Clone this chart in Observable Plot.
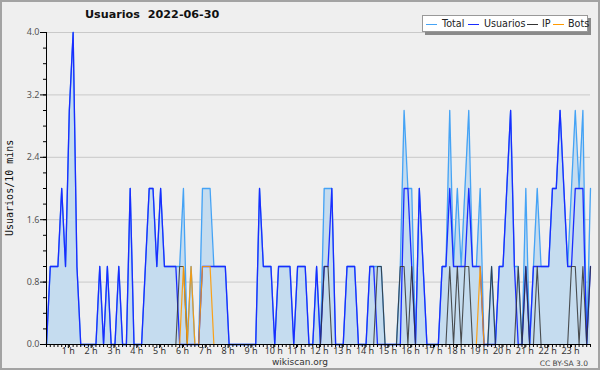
<!DOCTYPE html>
<html><head><meta charset="utf-8">
<script src="https://cdn.jsdelivr.net/npm/d3@7"></script>
<script src="https://cdn.jsdelivr.net/npm/@observablehq/plot@0.6"></script>
<style>
body{margin:0;background:#efefef;}
#wrap{position:relative;width:600px;height:370px;background:#efefef;overflow:hidden;font-family:"DejaVu Sans",sans-serif;}
#frame{position:absolute;left:0;top:0;width:600px;height:370px;box-sizing:border-box;border:2px solid #a3a3a3;pointer-events:none;}
#title{position:absolute;left:85px;top:8px;font-weight:bold;font-size:11.2px;white-space:pre;color:#111;}
#legend{position:absolute;left:422px;top:15px;width:166px;height:17px;box-sizing:border-box;background:#fff;border:1px solid #999;box-shadow:3px 3px 0 #8a8a8a;font-size:9.6px;color:#222;white-space:nowrap;}
#legend .sw{position:absolute;top:8px;width:11px;height:0;border-top:1.5px solid;}
#legend .tx{position:absolute;top:2px;}
#ylab{position:absolute;left:4px;top:188px;font-family:"DejaVu Sans Mono",monospace;font-size:10px;color:#111;transform:rotate(-90deg);transform-origin:0 0;white-space:nowrap;}
#foot{position:absolute;left:0;width:600px;top:357px;text-align:center;font-size:9px;color:#333;}
#cc{position:absolute;right:12px;top:359px;font-size:7.5px;color:#444;}
</style></head>
<body>
<div id="wrap">
<div id="chart"></div>
<div id="title"></div>
<div id="legend"></div>
<div id="ylab"></div>
<div id="foot"></div>
<div id="cc"></div>
<div id="frame"></div>
</div>
<script>
const titleText = "Usuarios  2022-06-30";
const yLabel = "Usuarios/10 mins";
const footText = "wikiscan.org";
const licText = "CC BY-SA 3.0";
const seriesNames = ["Total", "Usuarios", "IP", "Bots"];
const seriesColors = ["#45a3f5", "#1a2cff", "#333333", "#ff9a00"];
const yTicks = [0, 0.8, 1.6, 2.4, 3.2, 4.0];
const hourLabels = ["1 h","2 h","3 h","4 h","5 h","6 h","7 h","8 h","9 h","10 h","11 h","12 h","13 h","14 h","15 h","16 h","17 h","18 h","19 h","20 h","21 h","22 h","23 h"];

// 144 ten-minute slots
const usuarios = [
0,1,1,1,2,1,3,4,1,0,
0,0,0,0,1,0,1,0,0,1,
0,0,2,0,0,0,1,2,2,1,
2,1,1,1,1,0,0,0,0,0,
0,1,1,1,1,1,1,1,0,0,
0,0,0,0,0,0,2,1,1,1,
0,1,1,1,1,0,1,1,1,0,
0,1,0,1,1,2,0,0,0,1,
1,1,0,0,0,1,1,0,0,0,
0,0,0,0,2,2,1,0,2,1,
0,0,0,0,1,1,2,1,1,1,
1,2,1,1,1,0,0,0,0,1,
1,2,3,1,0,0,1,0,1,1,
1,1,1,2,2,3,2,1,1,2,
2,2,0,1];
const ip = [
0,0,0,0,0,0,0,0,0,0,
0,0,0,0,0,0,0,0,0,0,
0,0,0,0,0,0,0,0,0,0,
0,0,0,0,0,1,1,0,0,0,
0,0,0,0,0,0,0,0,0,0,
0,0,0,0,0,0,0,0,0,0,
0,0,0,0,0,0,0,0,0,0,
0,0,0,1,1,0,0,0,0,0,
0,0,0,0,0,0,0,1,1,0,
0,0,0,1,1,0,1,0,0,0,
0,0,0,0,0,0,1,0,1,0,
1,1,0,0,0,0,0,1,0,0,
0,0,0,0,1,0,1,0,0,1,
0,0,0,0,0,0,0,0,1,1,
0,1,0,1];
const bots = [
0,0,0,0,0,0,0,0,0,0,
0,0,0,0,0,0,0,0,0,0,
0,0,0,0,0,0,0,0,0,0,
0,0,0,0,0,0,1,0,1,0,
0,1,1,1,0,0,0,0,0,0,
0,0,0,0,0,0,0,0,0,0,
0,0,0,0,0,0,0,0,0,0,
0,0,0,0,0,0,0,0,0,0,
0,0,0,0,0,0,0,0,0,0,
0,0,0,0,0,0,0,0,0,0,
0,0,0,0,0,0,0,0,0,0,
0,0,0,0,1,0,0,0,0,0,
0,0,0,0,0,0,0,0,0,0,
0,0,0,0,0,0,0,0,0,0,
0,0,0,0];
const total = [
0,1,1,1,2,1,3,4,1,0,
0,0,0,0,1,0,1,0,0,1,
0,0,2,0,0,0,1,2,2,1,
2,1,1,1,1,1,2,0,1,0,
0,2,2,2,1,1,1,1,0,0,
0,0,0,0,0,0,2,1,1,1,
0,1,1,1,1,0,1,1,1,0,
0,1,0,2,2,2,0,0,0,1,
1,1,0,0,0,1,1,1,1,0,
0,0,0,1,3,2,2,0,2,1,
0,0,0,0,1,1,3,1,2,1,
2,3,1,1,2,0,0,1,0,1,
1,2,3,1,1,0,2,0,1,2,
1,1,1,2,2,3,2,1,2,3,
2,3,0,2];

const slot = d3.range(total.length);
const toRows = arr => arr.map((v, i) => ({i, v}));

const chart = Plot.plot({
  width: 600, height: 370,
  marginLeft: 46, marginRight: 10, marginTop: 32, marginBottom: 26,
  style: {background: "transparent", overflow: "visible"},
  x: {domain: [0, 143], axis: null},
  y: {domain: [0, 4], axis: null},
  marks: [
    Plot.ruleY(yTicks.slice(1), {x1: 0, x2: 143, stroke: "#c9c9c9", strokeWidth: 1}),
    Plot.areaY(toRows(total), {x: "i", y: "v", fill: "#c5dcef", curve: "linear"}),
    Plot.lineY(toRows(total), {x: "i", y: "v", stroke: seriesColors[0], strokeWidth: 1.3}),
    Plot.lineY(toRows(usuarios), {x: "i", y: "v", stroke: seriesColors[1], strokeWidth: 1.3}),
    Plot.lineY(toRows(ip), {x: "i", y: "v", stroke: seriesColors[2], strokeWidth: 1.1, strokeOpacity: 0.85}),
    Plot.lineY(toRows(bots), {x: "i", y: "v", stroke: seriesColors[3], strokeWidth: 1.2, strokeOpacity: 0.9}),
    Plot.ruleY([0], {x1: 0, x2: 143, stroke: "#000"}),
    Plot.ruleX([0], {y1: 0, y2: 4, stroke: "#000"}),
    Plot.axisX(slot, {label: null, tickSize: 3, tickFormat: () => "", stroke: "#000"}),
    Plot.axisX(hourLabels.map((d, k) => (k + 1) * 6), {label: null, tickSize: 4, tickPadding: -1, stroke: "#000",
      tickFormat: d => hourLabels[d / 6 - 1], fontSize: 9, fill: "#333", dx: -1}),
    Plot.axisY(d3.range(0, 21).map(k => k * 0.2), {label: null, tickSize: 3, tickFormat: () => "", stroke: "#000"}),
    Plot.axisY(yTicks, {label: null, tickSize: 6, tickPadding: 1, stroke: "#000", tickFormat: d => d.toFixed(1), fontSize: 9, fill: "#555"})
  ]
});
document.getElementById("chart").appendChild(chart);
document.getElementById("title").textContent = titleText;
document.getElementById("ylab").textContent = yLabel;
document.getElementById("foot").textContent = footText;
document.getElementById("cc").textContent = licText;
const lg = document.getElementById("legend");
const swLefts = [3, 45, 104, 130];
const txLefts = [19, 61, 119, 145];
seriesNames.forEach((n, k) => {
  const sw = document.createElement("div");
  sw.className = "sw";
  sw.style.left = swLefts[k] + "px";
  sw.style.borderColor = seriesColors[k];
  lg.appendChild(sw);
  const tx = document.createElement("div");
  tx.className = "tx";
  tx.style.left = txLefts[k] + "px";
  tx.textContent = n;
  lg.appendChild(tx);
});
const yl = document.getElementById("ylab");
yl.style.top = (188 + yl.offsetWidth / 2) + "px";
</script>
</body></html>
